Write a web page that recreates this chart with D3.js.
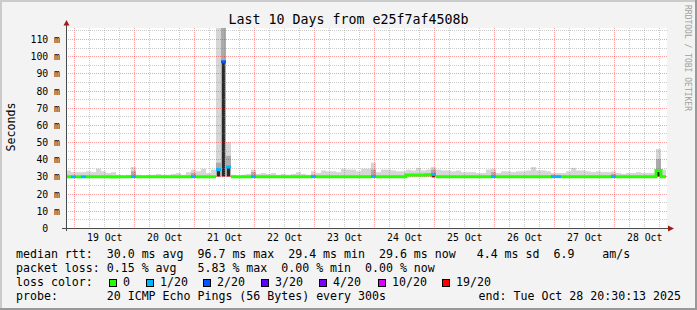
<!DOCTYPE html>
<html lang="en">
<head>
<meta charset="UTF-8">
<title>smokeping 10 days</title>
<style>
  body { margin: 0; background: #f3f3f3; }
  svg { display: block; }
  text { font-family: "DejaVu Sans Mono", monospace; white-space: pre; fill: #000; }
</style>
</head>
<body>
<svg id="chart" width="697" height="310"></svg>
<script src="https://d3js.org/d3.v7.min.js"></script>
<script>
// 10 days in 2 hour bins, values in ms
const endTime = Date.UTC(2025, 9, 28, 20, 30, 13);
const binHours = 2;

const median = [
  29.8,29.8,29.8,29.8,29.8,29.8,29.8,29.8,29.8,29.7,
  29.8,29.8,29.8,29.9,29.8,29.8,29.8,29.8,29.8,29.8,
  29.8,29.8,29.8,29.8,29.8,29.9,29.8,29.8,29.8,29.8,
  34.0,96.7,35.5,29.8,29.8,29.8,29.8,29.9,29.8,29.8,
  29.8,29.8,29.8,29.8,29.8,29.8,29.8,29.8,29.8,29.9,
  29.8,29.8,29.8,29.8,29.8,29.8,29.8,29.8,29.8,29.8,
  29.8,30.0,29.8,29.8,29.8,29.8,29.8,29.8,30.8,30.8,
  30.8,30.8,31.0,31.2,29.8,29.8,29.8,29.8,29.8,29.8,
  29.8,29.8,29.8,29.8,29.8,29.9,29.8,29.8,29.8,29.8,
  29.8,29.8,29.8,29.8,29.8,29.8,29.8,29.9,29.9,29.8,
  29.8,29.8,29.8,29.8,29.8,29.8,29.8,29.8,29.8,29.9,
  29.8,29.8,29.8,29.8,29.8,29.8,29.8,29.8,33.5,29.8
];
const loss = [
  0,1,0,1,0,0,0,0,0,0,
  0,0,0,1,0,0,0,0,0,0,
  0,0,0,0,0,1,0,0,0,0,
  1,2,1,0,0,0,0,1,0,0,
  0,0,0,0,0,0,0,0,0,1,
  0,0,0,0,0,0,0,0,0,0,
  0,1,0,0,0,0,0,0,0,0,
  0,0,0,1,0,0,0,0,0,0,
  0,0,0,0,0,1,0,0,0,0,
  0,0,0,0,0,0,0,1,1,0,
  0,0,0,0,0,0,0,0,0,1,
  0,0,0,0,0,0,0,0,0,0
];
const smokeLo = [
  29.5,29.5,29.5,29.5,29.5,29.5,29.5,29.5,29.5,29.5,
  29.5,29.5,29.5,29.5,29.5,29.5,29.5,29.5,29.5,29.5,
  29.5,29.5,29.5,29.5,29.5,29.5,29.5,29.5,29.5,29.5,
  30.0,30.0,30.0,29.5,29.5,29.5,29.5,29.5,29.5,29.5,
  29.5,29.5,29.5,29.5,29.5,29.5,29.5,29.5,29.5,29.5,
  29.5,29.5,29.5,29.5,29.5,29.5,29.5,29.5,29.5,29.5,
  29.5,29.5,29.5,29.5,29.5,29.5,29.5,29.5,29.5,29.5,
  29.5,29.5,29.5,29.5,29.5,29.5,29.5,29.5,29.5,29.5,
  29.5,29.5,29.5,29.5,29.5,29.5,29.5,29.5,29.5,29.5,
  29.5,29.5,29.5,29.5,29.5,29.5,29.5,29.5,29.5,29.5,
  29.5,29.5,29.5,29.5,29.5,29.5,29.5,29.5,29.5,29.5,
  29.5,29.5,29.5,29.5,29.5,29.5,29.5,29.5,30.0,29.5
];
const smokeMid = [
  29.5,29.5,29.5,29.5,29.5,29.5,29.5,29.5,29.5,29.5,
  29.5,29.5,29.5,33.0,29.5,29.5,29.5,29.5,29.5,29.5,
  29.5,29.5,29.5,29.5,29.5,32.0,29.5,29.5,29.5,29.5,
  38.0,117,42.0,29.5,29.5,29.5,29.5,32.5,29.5,29.5,
  29.5,29.5,29.5,29.5,29.5,29.5,29.5,29.5,29.5,31.0,
  29.5,29.5,29.5,29.5,29.5,29.5,29.5,29.5,29.5,29.5,
  29.5,34.0,29.5,29.5,29.5,29.5,29.5,29.5,29.5,29.5,
  29.5,29.5,29.5,34.0,29.5,29.5,29.5,29.5,29.5,29.5,
  29.5,29.5,29.5,29.5,29.5,32.5,29.5,29.5,29.5,29.5,
  29.5,29.5,29.5,29.5,29.5,29.5,29.5,31.0,29.5,29.5,
  29.5,29.5,29.5,29.5,29.5,29.5,29.5,29.5,29.5,31.5,
  29.5,29.5,29.5,29.5,29.5,29.5,29.5,29.5,40.0,29.5
];
const smokeHi = [
  33.5,32.5,32.5,32.5,33.0,32.5,34.5,33.0,32.0,32.5,
  31.0,30.5,31.0,35.5,31.0,30.5,31.0,31.0,31.5,31.0,
  31.0,31.5,32.0,31.0,32.5,34.0,33.0,34.5,32.0,34.0,
  120,120,50.0,31.0,30.5,31.0,31.5,34.0,31.5,32.0,
  31.5,32.0,31.0,31.5,31.0,31.5,32.5,31.5,31.0,33.0,
  32.0,33.5,33.0,33.0,32.5,34.5,34.0,34.0,33.0,34.5,
  34.5,38.0,32.5,34.0,34.0,33.5,33.0,33.0,34.0,33.5,
  35.0,33.5,34.0,35.5,34.0,33.5,33.5,33.0,33.5,32.5,
  32.5,32.5,32.0,32.0,34.0,34.5,32.0,33.0,33.0,32.5,
  33.0,33.0,33.5,35.5,33.5,33.5,33.0,32.0,32.0,32.0,
  33.0,35.0,33.5,33.5,33.0,32.5,33.0,32.5,32.5,33.0,
  32.0,31.5,32.0,32.0,32.5,32.0,32.0,32.0,46.0,34.0
];

const yTickValues = [0, 10, 20, 30, 40, 50, 60, 70, 80, 90, 100, 110];
const yTickLabels = ["0  ", "10 m", "20 m", "30 m", "40 m", "50 m", "60 m", "70 m", "80 m", "90 m", "100 m", "110 m"];
const yMinorValues = [5, 15, 25, 35, 45, 55, 65, 75, 85, 95, 105, 115];

const lossSteps = [0, 1, 2, 3, 4, 10, 19];
const lossLabels = ["0", "1/20", "2/20", "3/20", "4/20", "10/20", "19/20"];
const lossColors = ["#26ff00", "#00b8ff", "#0059ff", "#5e00ff", "#7e00ff", "#dd00ff", "#ff0000"];

const legendLines = [
  "median rtt:  30.0 ms avg  96.7 ms max  29.4 ms min  29.6 ms now   4.4 ms sd  6.9    am/s",
  "packet loss: 0.15 % avg   5.83 % max  0.00 % min  0.00 % now",
  "loss color:",
  "probe:       20 ICMP Echo Pings (56 Bytes) every 300s"
];
const endLabel = "end: Tue Oct 28 20:30:13 2025";

const W = 697, H = 310;
const plot = {left: 66, right: 666, top: 28, bottom: 228};
const startTime = endTime - 10 * 86400 * 1000;

const svg = d3.select("#chart");

// background + 3d border
svg.append("rect").attr("width", W).attr("height", H).attr("fill", "#f3f3f3");
svg.append("rect").attr("x", 0).attr("y", 0).attr("width", W).attr("height", 2).attr("fill", "#cbcbcb");
svg.append("rect").attr("x", 0).attr("y", 0).attr("width", 2).attr("height", H).attr("fill", "#cbcbcb");
svg.append("rect").attr("x", 0).attr("y", H - 2).attr("width", W).attr("height", 2).attr("fill", "#999");
svg.append("rect").attr("x", W - 2).attr("y", 0).attr("width", 2).attr("height", H).attr("fill", "#999");

svg.append("rect").attr("x", plot.left).attr("y", plot.top)
  .attr("width", plot.right - plot.left + 1).attr("height", plot.bottom - plot.top)
  .attr("fill", "#fff");

const x = d3.scaleUtc().domain([startTime, endTime]).range([plot.left, plot.right]);
const y = d3.scaleLinear().domain([0, 116.4]).range([plot.bottom, plot.top]).clamp(true);

const bins = median.map(function (m, i) {
  return {
    x0: x(startTime + i * binHours * 3600e3),
    x1: x(startTime + (i + 1) * binHours * 3600e3),
    med: m, loss: loss[i], lo: smokeLo[i], mid: smokeMid[i], hi: smokeHi[i]
  };
});

function lossIndex(l) {
  let k = 0;
  lossSteps.forEach(function (s, j) { if (l >= s) k = j; });
  return k;
}

// smoke
const smoke = svg.append("g");
smoke.selectAll(".light").data(bins).enter().append("rect")
  .attr("x", d => d.x0).attr("width", d => d.x1 - d.x0)
  .attr("y", d => y(d.hi)).attr("height", d => y(d.lo) - y(d.hi))
  .attr("fill", "#d6d6d6");
smoke.selectAll(".mid").data(bins.filter(d => d.mid > d.lo)).enter().append("rect")
  .attr("x", d => d.x0).attr("width", d => d.x1 - d.x0)
  .attr("y", d => y(d.mid)).attr("height", d => y(d.lo) - y(d.mid))
  .attr("fill", "#ababab");
smoke.selectAll(".core").data(bins.filter(d => d.med - d.lo > 1.5)).enter().append("rect")
  .attr("x", d => d.x0 + 1).attr("width", d => d.x1 - d.x0 - 2)
  .attr("y", d => y(d.med)).attr("height", d => y(d.lo) - y(d.med))
  .attr("fill", "#2a2a2a");

// grid (drawn over the smoke, like rrdtool)
const grid = svg.append("g");
d3.utcHour.every(6).range(new Date(startTime), new Date(endTime)).forEach(function (t) {
  const major = t.getUTCHours() === 0;
  const gx = Math.floor(x(t)) + 0.5;
  grid.append("line").attr("x1", gx).attr("x2", gx).attr("y1", plot.top).attr("y2", plot.bottom)
    .attr("stroke", major ? "rgba(255,0,0,0.38)" : "rgba(128,128,128,0.4)")
    .attr("stroke-dasharray", "1,1");
});
yMinorValues.concat(yTickValues.slice(1)).forEach(function (v) {
  const gy = Math.round(y(v)) + 0.5;
  grid.append("line").attr("x1", plot.left).attr("x2", plot.right + 1).attr("y1", gy).attr("y2", gy)
    .attr("stroke", v % 10 === 0 ? "rgba(255,0,0,0.38)" : "rgba(128,128,128,0.4)")
    .attr("stroke-dasharray", "1,1");
});

// median line, split into runs of equal loss colour
const line = d3.line();
let runs = [];
bins.forEach(function (d, i) {
  const c = lossIndex(d.loss);
  if (i === 0 || c !== lossIndex(bins[i - 1].loss)) runs.push({c: c, pts: []});
  runs[runs.length - 1].pts.push([d.x0, y(d.med)], [d.x1, y(d.med)]);
});
svg.append("g").selectAll("path").data(runs).enter().append("path")
  .attr("d", d => line(d.pts))
  .attr("fill", "none")
  .attr("stroke", d => lossColors[d.c])
  .attr("stroke-width", 3);

// axes
const axisColor = "#4a4a4a", arrowColor = "#9e1c1c";
svg.append("line").attr("x1", 62).attr("x2", 670).attr("y1", plot.bottom + 0.5).attr("y2", plot.bottom + 0.5)
  .attr("stroke", axisColor);
svg.append("line").attr("x1", plot.left + 0.5).attr("x2", plot.left + 0.5).attr("y1", 231).attr("y2", 24)
  .attr("stroke", axisColor);
svg.append("path").attr("d", "M668,225.5L674,228.5L668,231.5Z").attr("fill", arrowColor);
svg.append("path").attr("d", "M63.5,25.5L66.5,20L69.5,25.5Z").attr("fill", arrowColor);

// y labels
svg.append("g").selectAll("text").data(yTickValues).enter().append("text")
  .attr("x", 60).attr("y", d => Math.round(y(d)) + 3.8)
  .attr("text-anchor", "end").style("font-size", "9.8px")
  .text((d, i) => yTickLabels[i]);

// x labels at noon
svg.append("g").selectAll("text")
  .data(d3.utcDay.range(new Date(startTime), new Date(endTime)).map(t => d3.utcHour.offset(t, 12))
    .filter(t => +t > startTime && +t < endTime))
  .enter().append("text")
  .attr("x", d => x(d)).attr("y", 241)
  .attr("text-anchor", "middle").style("font-size", "9.8px")
  .text(d => d3.utcFormat("%d %b")(d));

// titles
svg.append("text").attr("x", W / 2).attr("y", 24).attr("text-anchor", "middle")
  .style("font-size", "13.3px").text("Last 10 Days from e25f7af4508b");
svg.append("text").attr("transform", "translate(15,127) rotate(-90)").attr("text-anchor", "middle")
  .style("font-size", "11.6px").text("Seconds");
svg.append("text").attr("transform", "translate(685,5) rotate(90)")
  .style("font-size", "8px").style("fill", "#a0a0a0").text("RRDTOOL / TOBI OETIKER");

// legend
const legendY = [257.5, 271.5, 285.5, 299.5];
legendLines.forEach(function (s, i) {
  svg.append("text").attr("x", 16).attr("y", legendY[i]).style("font-size", "11.6px").text(s);
});
const boxX = [109, 146, 203, 261, 319, 378, 442];
lossLabels.forEach(function (lab, i) {
  svg.append("rect").attr("x", boxX[i] + 0.5).attr("y", 279.5).attr("width", 7).attr("height", 7)
    .attr("fill", lossColors[i]).attr("stroke", "#000");
  svg.append("text").attr("x", boxX[i] + 14).attr("y", legendY[2]).style("font-size", "11.6px").text(lab);
});
svg.append("text").attr("x", 681).attr("y", legendY[3]).attr("text-anchor", "end")
  .style("font-size", "11.6px").text(endLabel);
</script>
</body>
</html>
